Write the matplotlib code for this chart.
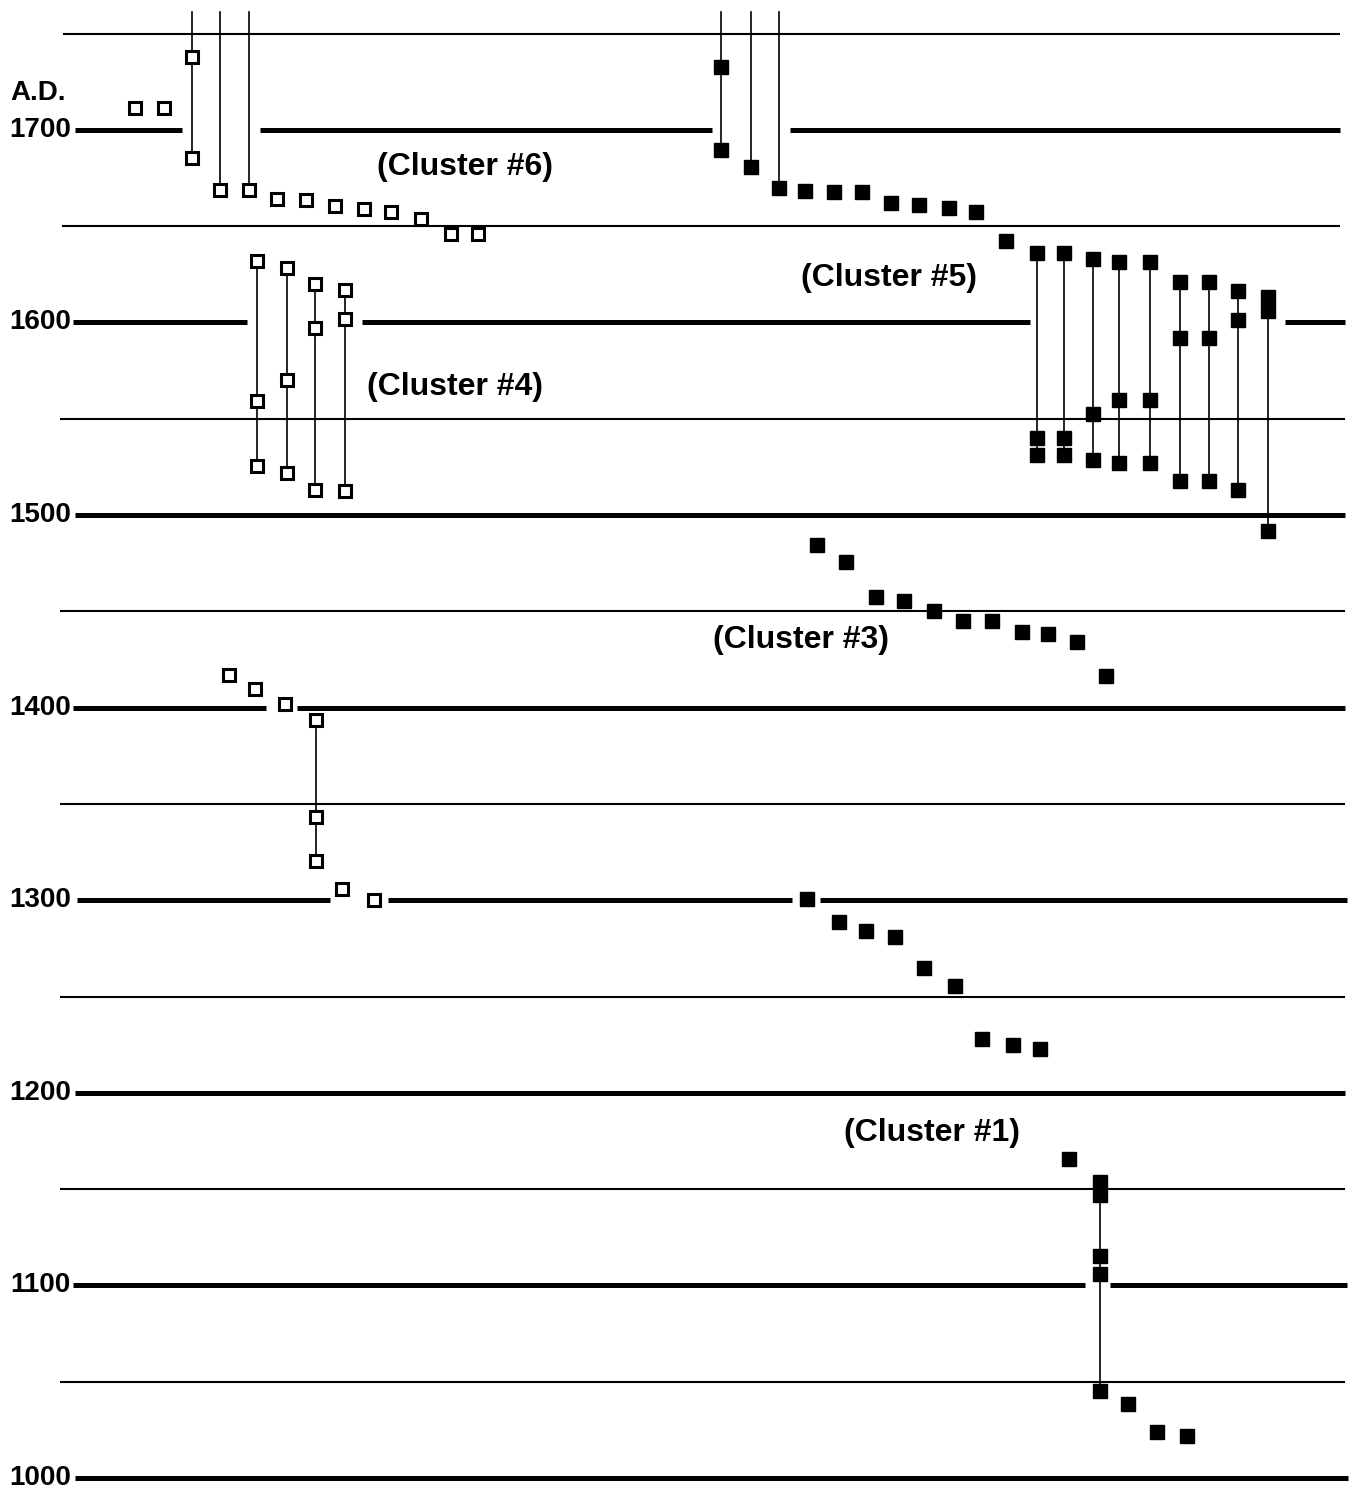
import matplotlib
matplotlib.use("Agg")
import matplotlib.pyplot as plt

# ---------------- data ----------------
# century lines (thick, labelled) and half-century lines (thin)
century_years = [1000, 1100, 1200, 1300, 1400, 1500, 1600, 1700]
century_labels = ["1000", "1100", "1200", "1300", "1400", "1500", "1600", "1700"]
half_years = [1050, 1150, 1250, 1350, 1450, 1550, 1650, 1750]

# horizontal extent of the century lines and the gaps left around markers
century_start = [75, 73, 75, 77, 73, 75, 73, 75]
century_end = [1348, 1347, 1345, 1347, 1345, 1345, 1345, 1340]
century_gaps = [[], [(1085, 1110)], [], [(330, 388), (792, 820)],
                [(266, 297)], [], [(247, 362), (1030, 1285)],
                [(182, 260), (712, 790)]]
half_start = [60, 60, 60, 60, 60, 60, 62, 63]
half_end = [1345, 1345, 1345, 1345, 1345, 1345, 1340, 1340]

# open squares – single dates
open_x = [135, 164, 277, 306, 335, 364, 391, 421, 451, 478,
          229, 255, 285, 342, 374]
open_y = [1711.3, 1711.3, 1664.0, 1663.6, 1660.4, 1658.9, 1657.3, 1653.7, 1645.9, 1645.9,
          1416.9, 1409.7, 1401.9, 1305.8, 1300.1]

# open squares – multi-date columns (connected by a line)
open_col_x = [192, 220, 249, 257, 287, 315, 345, 316]
open_col_years = [[1737.8, 1685.4], [1668.7], [1668.7],
                  [1631.9, 1559.2, 1525.4], [1628.2, 1570.1, 1521.8],
                  [1619.9, 1597.1, 1513.0], [1616.8, 1601.8, 1512.5],
                  [1393.6, 1343.2, 1320.4]]
open_col_to_top = [True, True, True, False, False, False, False, False]

# filled squares – single dates
fill_x = [805, 834, 862, 891, 919, 949, 976, 1006,
          817, 846, 876, 904, 934, 963, 992, 1022, 1048, 1077, 1106,
          807, 839, 866, 895, 924, 955, 982, 1013, 1040,
          1069, 1128, 1157, 1187]
fill_y = [1668.2, 1667.7, 1667.7, 1662.0, 1661.0, 1659.4, 1657.3, 1642.3,
          1484.4, 1475.6, 1457.4, 1455.3, 1450.2, 1445.0, 1445.0, 1439.3, 1438.2, 1434.1, 1416.4,
          1300.6, 1288.7, 1284.0, 1280.9, 1264.8, 1255.5, 1228.0, 1224.8, 1222.7,
          1165.6, 1038.4, 1023.9, 1021.8]

# filled squares – multi-date columns
fill_col_x = [721, 751, 779, 1037, 1064, 1093, 1119, 1150, 1180, 1209, 1238, 1268, 1100]
fill_col_years = [[1732.6, 1689.5], [1680.7], [1669.8],
                  [1636.0, 1540.0, 1531.2], [1636.0, 1540.0, 1531.2],
                  [1633.0, 1552.4, 1528.5], [1631.4, 1559.7, 1527.0],
                  [1631.4, 1559.7, 1527.0], [1621.0, 1592.0, 1517.6],
                  [1621.0, 1592.0, 1517.6], [1616.3, 1601.2, 1513.0],
                  [1613.2, 1605.9, 1491.7],
                  [1153.7, 1147.0, 1115.3, 1106.0, 1045.2]]
fill_col_to_top = [True, True, True] + [False] * 10

cluster_labels = ["(Cluster #6)", "(Cluster #5)", "(Cluster #4)", "(Cluster #3)", "(Cluster #1)"]
cluster_x = [465, 889, 455, 801, 932]
cluster_y = [1680.7, 1623.1, 1566.5, 1435.1, 1179.1]

TOP_YEAR = 1761.0

# ---------------- figure ----------------
fig = plt.figure(figsize=(13.55, 14.95), dpi=100)
ax = fig.add_axes([0, 0, 1, 1])
ax.set_xlim(0, 1355)
ax.set_ylim(991.2, 1767.4)
ax.axis("off")

font = dict(family=["Liberation Sans", "DejaVu Sans"], weight="bold", color="black")

# half-century thin lines
for yr, x0, x1 in zip(half_years, half_start, half_end):
    ax.plot([x0, x1], [yr, yr], color="black", lw=1.5, solid_capstyle="butt", zorder=1)

# century thick lines with gaps
for yr, x0, x1, gaps in zip(century_years, century_start, century_end, century_gaps):
    xs = [x0]
    for g0, g1 in gaps:
        xs += [g0, g1]
    xs.append(x1)
    for i in range(0, len(xs), 2):
        ax.plot([xs[i], xs[i + 1]], [yr, yr], color="black", lw=3.6,
                solid_capstyle="butt", zorder=1)

for yr, lab in zip(century_years, century_labels):
    ax.text(71, yr, lab, ha="right", va="center", fontsize=20, **font)
ax.text(10, 1719.0, "A.D.", ha="left", va="center", fontsize=20, **font)


def draw_pts(xs, ys, filled):
    if filled:
        ax.plot(xs, ys, ls="none", marker="s", ms=10, mfc="black", mec="black",
                mew=1, zorder=3)
    else:
        ax.plot(xs, ys, ls="none", marker="s", ms=8.5, mfc="white", mec="black",
                mew=2.2, zorder=3)


def draw_cols(xs, years, to_top, filled):
    for x, ys, top in zip(xs, years, to_top):
        hi = TOP_YEAR if top else max(ys)
        ax.plot([x, x], [min(ys), hi], color="black", lw=1.2, zorder=2)
        draw_pts([x] * len(ys), ys, filled)


draw_pts(open_x, open_y, False)
draw_cols(open_col_x, open_col_years, open_col_to_top, False)
draw_pts(fill_x, fill_y, True)
draw_cols(fill_col_x, fill_col_years, fill_col_to_top, True)

for lab, x, y in zip(cluster_labels, cluster_x, cluster_y):
    ax.text(x, y, lab, ha="center", va="center", fontsize=23, **font)

fig.savefig("out.png", dpi=100)
